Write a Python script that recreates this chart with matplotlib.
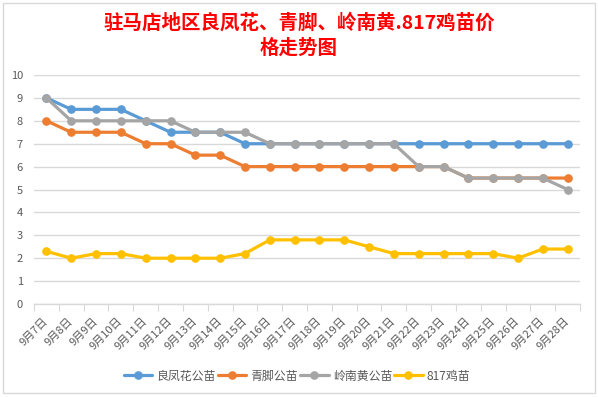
import matplotlib
matplotlib.use("Agg")
import matplotlib.pyplot as plt
from matplotlib.patches import Rectangle

plt.rcParams['font.family'] = ['Noto Sans CJK SC', 'DejaVu Sans']

dates = [f"9月{d}日" for d in range(7, 29)]
liangfenghua = [9, 8.5, 8.5, 8.5, 8, 7.5, 7.5, 7.5, 7, 7, 7, 7, 7, 7, 7, 7, 7, 7, 7, 7, 7, 7]
qingjiao = [8, 7.5, 7.5, 7.5, 7, 7, 6.5, 6.5, 6, 6, 6, 6, 6, 6, 6, 6, 6, 5.5, 5.5, 5.5, 5.5, 5.5]
lingnanhuang = [9, 8, 8, 8, 8, 8, 7.5, 7.5, 7.5, 7, 7, 7, 7, 7, 7, 6, 6, 5.5, 5.5, 5.5, 5.5, 5]
chick817 = [2.3, 2.0, 2.2, 2.2, 2.0, 2.0, 2.0, 2.0, 2.2, 2.8, 2.8, 2.8, 2.8, 2.5, 2.2, 2.2, 2.2, 2.2, 2.2, 2.0, 2.4, 2.4]

series_names = ["良凤花公苗", "青脚公苗", "岭南黄公苗", "817鸡苗"]
series = [liangfenghua, qingjiao, lingnanhuang, chick817]
colors = ["#5B9BD5", "#ED7D31", "#A5A5A5", "#FFC000"]

W, H = 598, 397
fig = plt.figure(figsize=(W / 100, H / 100), dpi=100)
fig.patch.set_facecolor("white")
fig.patches.append(Rectangle((3 / W, 1 - 393 / H), 592 / W, 390 / H, transform=fig.transFigure,
                             fill=False, edgecolor="#D9D9D9", linewidth=1))

ax = fig.add_axes([34 / W, 1 - 304 / H, (580 - 34) / W, (304 - 75) / H])
x = list(range(len(dates)))
for name, vals, c in zip(series_names, series, colors):
    ax.plot(x, vals, color=c, linewidth=2.3, marker="o", markersize=5.2, label=name,
            solid_capstyle="round", solid_joinstyle="round")

ax.set_xlim(-0.5, len(dates) - 0.5)
ax.set_ylim(0, 10)
ax.set_yticks(range(0, 11))
ax.grid(axis="y", color="#D9D9D9", linewidth=1)
ax.set_axisbelow(True)
for s in ["top", "right", "left"]:
    ax.spines[s].set_visible(False)
ax.spines["bottom"].set_color("#D9D9D9")
ax.spines["bottom"].set_linewidth(1)
ax.tick_params(axis="y", length=0, labelsize=8, labelcolor="#595959", pad=8)

ax.set_xticks([i - 0.5 for i in range(len(dates) + 1)], minor=False)
ax.set_xticklabels([])
ax.tick_params(axis="x", which="major", length=5, color="#D9D9D9", direction="out")
ax.set_xticks(x, minor=True)
ax.set_xticklabels(dates, minor=True, rotation=45, ha="right", va="center",
                   rotation_mode="anchor", fontsize=8, color="#595959")
ax.tick_params(axis="x", which="minor", length=0, pad=11)

fig.text(299 / W, 1 - 23 / H, "驻马店地区良凤花、青脚、岭南黄.817鸡苗价", ha="center", va="center",
         color="#FF0000", fontsize=14, fontweight="bold")
fig.text(299 / W, 1 - 48 / H, "格走势图", ha="center", va="center",
         color="#FF0000", fontsize=14, fontweight="bold")

fig.legend(loc="center", bbox_to_anchor=(297 / W, 1 - 376 / H), ncol=4, frameon=False,
           fontsize=8.6, labelcolor="#595959", handlelength=2.4, handletextpad=0.35,
           columnspacing=0.15, borderaxespad=0)

fig.savefig("out.png", dpi=100, facecolor="white")
